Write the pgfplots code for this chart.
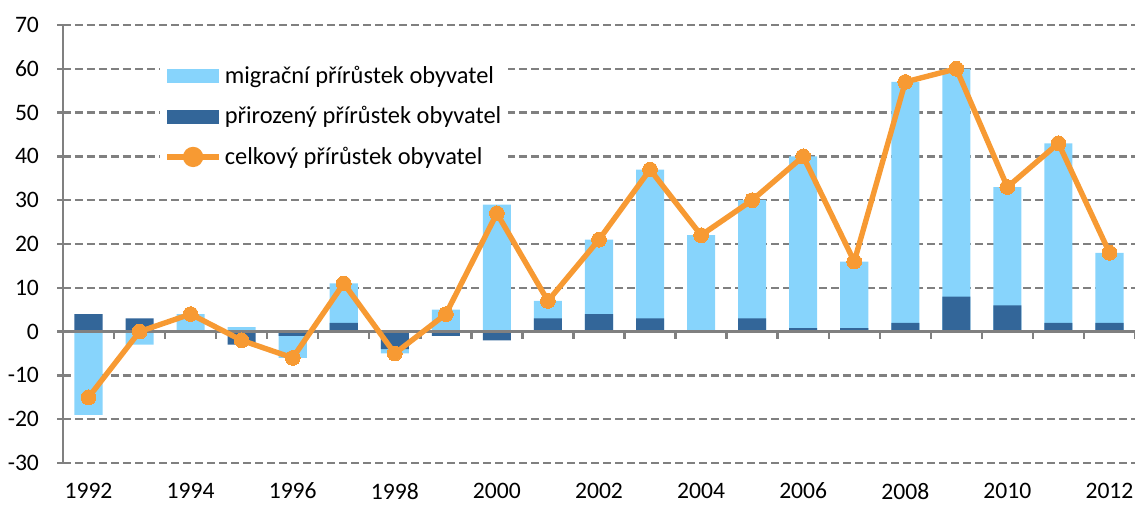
\documentclass[border=0pt]{standalone}
\usepackage{fontspec}
\setmainfont{Carlito}
\usepackage{pgfplots}
\pgfplotsset{compat=1.18}
\usepackage{pgfplotstable}

\definecolor{migr}{RGB}{135,212,252}
\definecolor{natur}{RGB}{51,102,153}
\definecolor{totl}{RGB}{247,154,51}
\definecolor{gridg}{RGB}{128,128,128}

% mig = visible end of the light (migration) bar, nat = natural growth, tot = total growth
\pgfplotstableread{
year mig nat tot
1992 -19 4 -15
1993 -3 3 0
1994 4 0 4
1995 1 -3 -2
1996 -6 -1 -6
1997 11 2 11
1998 -5 -4 -5
1999 5 -1 4
2000 29 -2 27
2001 7 3 7
2002 21 4 21
2003 37 3 37
2004 22 0 22
2005 30 3 30
2006 40 0.8 40
2007 16 0.8 16
2008 57 2 57
2009 60 8 60
2010 33 6 33
2011 43 2 43
2012 18 2 18
}\data

\begin{document}
\begin{tikzpicture}
\begin{axis}[
  name=ax,
  scale only axis,
  width=536pt, height=219pt,
  xmin=1991.5, xmax=2012.5,
  ymin=-30, ymax=70,
  ytick={-30,-20,...,70},
  xtick={1992,1994,...,2012},
  x tick label style={/pgf/number format/1000 sep={}, yshift=-3.5pt},
  y tick label style={xshift=-5.5pt},
  /pgf/number format/assume math mode=true,
  tick label style={font=\fontsize{11.8}{13}\selectfont},
  axis x line*=bottom,
  axis y line*=left,
  x axis line style={draw=none},
  y axis line style={draw=gridg, line width=1.2pt},
  xtick style={draw=none},
  ytick style={draw=gridg, line width=1.2pt},
  tick align=outside,
  major tick length=3pt,
  ymajorgrids,
  major grid style={draw=gridg, line width=1.2pt, dash pattern=on 4pt off 2pt},
  legend style={at={(0.0905,0.925)}, anchor=north west, fill=white, draw=none,
    font=\fontsize{12.2}{14}\selectfont, row sep=6pt, inner sep=2pt,
    nodes={inner xsep=1.5pt}},
  legend cell align=left,
]
\addplot[ybar, bar width=0.55, bar shift=0pt, fill=migr, draw=none,
  legend image code/.code={\fill[migr] (0pt,-3.5pt) rectangle (26pt,3.5pt);}]
  table[x=year,y=mig]{\data};
\addlegendentry{migrační přírůstek obyvatel}
\addplot[ybar, bar width=0.55, bar shift=0pt, fill=natur, draw=none,
  legend image code/.code={\fill[natur] (0pt,-3.5pt) rectangle (26pt,3.5pt);}]
  table[x=year,y=nat]{\data};
\addlegendentry{přirozený přírůstek obyvatel}
\draw[gridg, line width=1.2pt] (axis cs:1991.5,0) -- (axis cs:2012.5,0);
\pgfplotsinvokeforeach{1992.5,1993.5,...,2012.5}{
  \draw[gridg, line width=1.2pt] (axis cs:#1,0) -- ++(0pt,-3.5pt);
}
\addplot[totl, line width=2.7pt, mark=*, mark size=3.7pt,
  mark options={fill=totl, draw=totl, line width=0pt},
  legend image code/.code={
    \draw[totl, line width=2.7pt] (0pt,0pt) -- (26pt,0pt);
    \fill[totl] (13pt,0pt) circle (3.7pt);}]
  table[x=year,y=tot]{\data};
\addlegendentry{celkový přírůstek obyvatel}
\end{axis}
\pgfresetboundingbox
\path ([xshift=-31.5pt,yshift=-22pt]ax.south west) rectangle ([yshift=12.5pt]ax.north east);
\end{tikzpicture}
\end{document}
